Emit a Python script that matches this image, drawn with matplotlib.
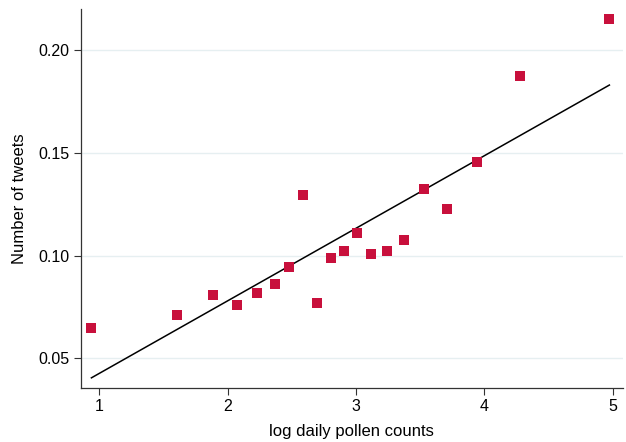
import numpy as np
import matplotlib
matplotlib.use('Agg')
import matplotlib.pyplot as plt

plt.rcParams['font.family'] = ['Liberation Sans', 'DejaVu Sans']

# binned means: log pollen count vs share of tweets
log_pollen = [0.94, 1.605, 1.89, 2.077, 2.233, 2.371, 2.482, 2.591, 2.700, 2.807,
              2.911, 3.012, 3.121, 3.245, 3.378, 3.531, 3.713, 3.946, 4.279, 4.974]
tweets = [0.0648, 0.0710, 0.0807, 0.0758, 0.0817, 0.0862, 0.0945, 0.1296, 0.0768, 0.0987,
          0.1021, 0.1109, 0.1007, 0.1021, 0.1078, 0.1325, 0.1227, 0.1456, 0.1875, 0.2151]

# linear fit
fit_intercept = 0.00728
fit_slope = 0.03533

yticks = [0.05, 0.10, 0.15, 0.20]
xticks = [1, 2, 3, 4, 5]

fig = plt.figure(figsize=(6.26, 4.42), dpi=100)
ax = fig.add_axes([0.129, 0.1215, 0.866, 0.858])

for yt in yticks:
    ax.axhline(yt, color='#e6eff1', lw=1.0, zorder=0)

ax.scatter(log_pollen, tweets, marker='s', s=52, color='#c8103c', linewidths=0, zorder=3)

xfit = np.array([min(log_pollen), max(log_pollen)])
ax.plot(xfit, fit_intercept + fit_slope * xfit, color='black', lw=1.1, zorder=2)

ax.set_xlim(0.857, 5.079)
ax.set_ylim(0.0354, 0.220)
ax.set_xticks(xticks)
ax.set_yticks(yticks)
ax.set_yticklabels(['0.05', '0.10', '0.15', '0.20'])
ax.tick_params(labelsize=11.5, length=5, width=0.8, color='#333333', pad=3)

for side in ['top', 'right']:
    ax.spines[side].set_visible(False)
for side in ['left', 'bottom']:
    ax.spines[side].set_color('#333333')
    ax.spines[side].set_linewidth(0.9)

ax.set_xlabel('log daily pollen counts', fontsize=12, labelpad=7)
ax.set_ylabel('Number of tweets', fontsize=12, labelpad=8)

fig.savefig('out.png', dpi=100)
